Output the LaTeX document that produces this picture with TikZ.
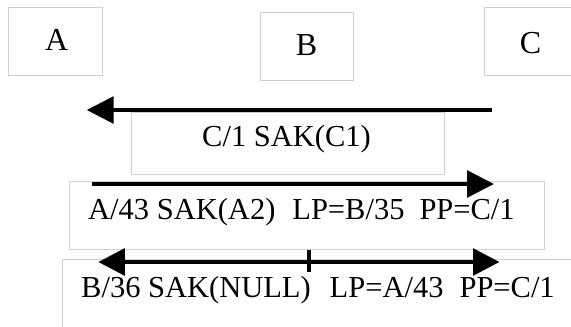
\documentclass[tikz,border=0pt]{standalone}
\usepackage{fontspec}
\setmainfont{Liberation Serif}
\usetikzlibrary{arrows.meta}
\begin{document}
\begin{tikzpicture}[x=1pt,y=-1pt,
  frame/.style={draw=black!18,line width=0.8pt},
  msg/.style={line width=4.4pt,-{Triangle[length=27pt,width=26.5pt]}},
  dmsg/.style={line width=4.4pt,{Triangle[length=26.5pt,width=26.5pt]}-{Triangle[length=26.5pt,width=26.5pt]}},
  lbl/.style={inner sep=0pt,anchor=base west,font=\fontsize{30.5}{36}\selectfont},
  big/.style={inner sep=0pt,anchor=base,font=\fontsize{32}{38}\selectfont}]
\useasboundingbox (0,0) rectangle (571,327);
% participant boxes
\draw[frame] (8.3,7.3) rectangle (102.3,75.3);
\draw[frame] (260.5,12.3) rectangle (353.4,80.3);
\draw[frame] (484.5,7.3) rectangle (575,75.3);
\node[big] (A) at (56.7,50.7) {A};
\node[big] (B) at (306.5,55) {B};
\node[big] (C) at (530.5,53.5) {C};
% message boxes
\draw[frame] (131.7,112) rectangle (444.3,174.8);
\draw[frame] (69,181.7) rectangle (544.3,249);
\draw[frame] (575,259.3) -- (62.7,259.3) -- (62.7,330);
% arrows
\coordinate (m1s) at (492,110);
\coordinate (m1e) at (86.7,110);
\coordinate (m2s) at (91.7,184);
\coordinate (m2e) at (494,184);
\coordinate (m3s) at (98.3,262);
\coordinate (m3e) at (499.5,262);
\coordinate (t1) at (309.3,250);
\coordinate (t2) at (309.3,272);
\draw[msg] (m1s) -- (m1e);
\draw[msg] (m2s) -- (m2e);
\draw[dmsg] (m3s) -- (m3e);
\draw[line width=4.2pt] (t1) -- (t2);
% labels
\node[lbl] (l1) at (202,146.7) {C/1 SAK(C1)};
\node[lbl] (l2) at (88,219.5) {A/43 SAK(A2)\hspace{17pt}LP=B/35\hspace{15pt}PP=C/1};
\node[lbl] (l3) at (81,297.3) {B/36 SAK(NULL)\hspace{19pt}LP=A/43\hspace{16pt}PP=C/1};
\end{tikzpicture}
\end{document}
